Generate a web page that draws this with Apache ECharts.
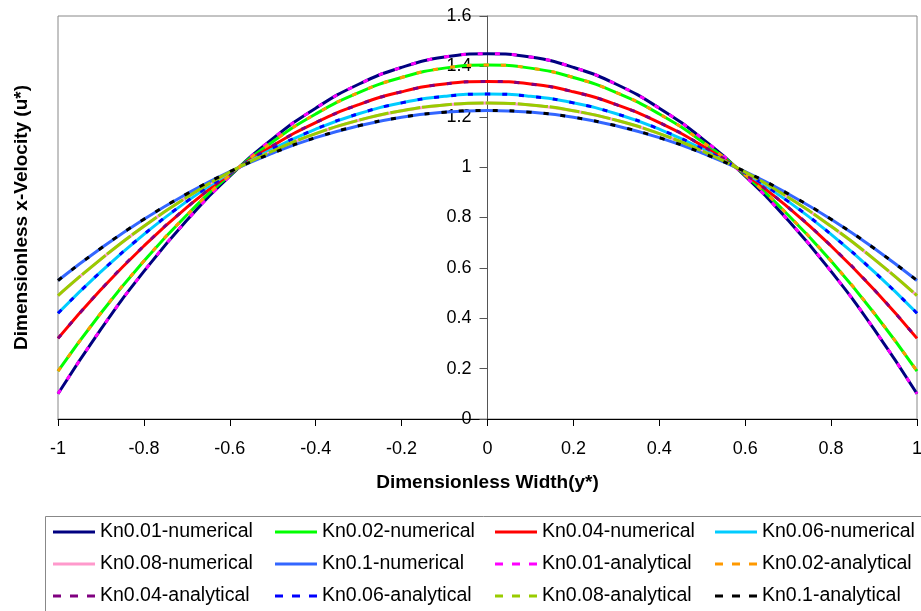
<!DOCTYPE html>
<html><head><meta charset="utf-8">
<script src="https://cdn.jsdelivr.net/npm/echarts@6/dist/echarts.min.js"></script>
<style>html,body{margin:0;padding:0;background:#fff}#c{width:921px;height:611px}</style>
</head><body><div id="c"></div>
<script>
// x positions (dimensionless width y*)
const xVals = [-1,-0.9,-0.8,-0.7,-0.6,-0.5,-0.4,-0.3,-0.2,-0.1,0,0.1,0.2,0.3,0.4,0.5,0.6,0.7,0.8,0.9,1];
// values (u*)
const kn001Num = [0.10,0.357,0.586,0.789,0.964,1.113,1.234,1.329,1.396,1.437,1.45,1.437,1.396,1.329,1.234,1.113,0.964,0.789,0.586,0.357,0.10];
const kn002Num = [0.19,0.421,0.627,0.810,0.968,1.101,1.211,1.296,1.356,1.393,1.405,1.393,1.356,1.296,1.211,1.101,0.968,0.810,0.627,0.421,0.19];
const kn004Num = [0.32,0.514,0.687,0.840,0.973,1.085,1.177,1.248,1.299,1.330,1.34,1.330,1.299,1.248,1.177,1.085,0.973,0.840,0.687,0.514,0.32];
const kn006Num = [0.42,0.585,0.733,0.864,0.977,1.073,1.151,1.212,1.255,1.281,1.29,1.281,1.255,1.212,1.151,1.073,0.977,0.864,0.733,0.585,0.42];
const kn008Num = [0.49,0.635,0.765,0.880,0.980,1.064,1.133,1.186,1.224,1.247,1.255,1.247,1.224,1.186,1.133,1.064,0.980,0.880,0.765,0.635,0.49];
const kn01Num  = [0.55,0.678,0.793,0.894,0.982,1.056,1.117,1.164,1.198,1.218,1.225,1.218,1.198,1.164,1.117,1.056,0.982,0.894,0.793,0.678,0.55];
const kn001Ana = [0.10,0.357,0.586,0.789,0.964,1.113,1.234,1.329,1.396,1.437,1.45,1.437,1.396,1.329,1.234,1.113,0.964,0.789,0.586,0.357,0.10];
const kn002Ana = [0.19,0.421,0.627,0.810,0.968,1.101,1.211,1.296,1.356,1.393,1.405,1.393,1.356,1.296,1.211,1.101,0.968,0.810,0.627,0.421,0.19];
const kn004Ana = [0.32,0.514,0.687,0.840,0.973,1.085,1.177,1.248,1.299,1.330,1.34,1.330,1.299,1.248,1.177,1.085,0.973,0.840,0.687,0.514,0.32];
const kn006Ana = [0.42,0.585,0.733,0.864,0.977,1.073,1.151,1.212,1.255,1.281,1.29,1.281,1.255,1.212,1.151,1.073,0.977,0.864,0.733,0.585,0.42];
const kn008Ana = [0.49,0.635,0.765,0.880,0.980,1.064,1.133,1.186,1.224,1.247,1.255,1.247,1.224,1.186,1.133,1.064,0.980,0.880,0.765,0.635,0.49];
const kn01Ana  = [0.55,0.678,0.793,0.894,0.982,1.056,1.117,1.164,1.198,1.218,1.225,1.218,1.198,1.164,1.117,1.056,0.982,0.894,0.793,0.678,0.55];

const seriesNames = ['Kn0.01-numerical','Kn0.02-numerical','Kn0.04-numerical','Kn0.06-numerical',
  'Kn0.08-numerical','Kn0.1-numerical','Kn0.01-analytical','Kn0.02-analytical',
  'Kn0.04-analytical','Kn0.06-analytical','Kn0.08-analytical','Kn0.1-analytical'];
const seriesData = [kn001Num,kn002Num,kn004Num,kn006Num,kn008Num,kn01Num,kn001Ana,kn002Ana,kn004Ana,kn006Ana,kn008Ana,kn01Ana];
const colors = ['#000080','#00ff00','#ff0000','#00ccff','#ff99cc','#3366ff','#ff00ff','#ff9900','#800080','#0000ff','#99cc00','#000000'];
const dashed = [false,false,false,false,false,false,true,true,true,true,true,true];
const dashPat = [null,null,null,null,null,null,[5,12],[5,12],[5,12],[5,12],[30,2],[5,12]];

const font = '"Liberation Sans", Arial, sans-serif';
const series = seriesNames.map((n,i)=>({
  name:n, type:'line', symbol:'none', smooth:true, animation:false,
  data: xVals.map((x,j)=>[x, seriesData[i][j]]),
  lineStyle:{color:colors[i], width:3, type: dashed[i] ? dashPat[i] : 'solid'},
  itemStyle:{color:colors[i]},
  z: dashed[i] ? 3 : 2
}));

const solidIcon = 'path://M0,0h42v3h-42z';
const dashIcon = 'path://M0,0h8v3h-8z M17,0h8v3h-8z M34,0h8v3h-8z';

function legendCol(idxs, left){
  return {
    data: idxs.map(i=>({name:seriesNames[i], icon: dashed[i] ? dashIcon : solidIcon})),
    top: 521, left: left, orient:'vertical', itemGap:10,
    itemWidth:42, itemHeight:3, padding:0,
    textStyle:{fontFamily:font, fontSize:19.5, color:'#000', lineHeight:22},
    selectedMode:false
  };
}

const chart = echarts.init(document.getElementById('c'), null, {renderer:'canvas'});
chart.setOption({
  animation:false,
  color: colors,
  grid:{left:58, right:4, top:16, bottom:192, show:true, borderColor:'#888888', borderWidth:1,
        containLabel:false, outerBoundsMode:'none'},
  xAxis:{
    type:'value', min:-1, max:1, interval:0.2,
    name:'Dimensionless Width(y*)', nameLocation:'middle', nameGap:54,
    nameTextStyle:{fontFamily:font, fontSize:19, fontWeight:'bold', color:'#000'},
    axisLine:{show:true, onZero:false, lineStyle:{color:'#000', width:1}},
    axisTick:{show:true, inside:false, length:7, lineStyle:{color:'#000'}},
    axisLabel:{fontFamily:font, fontSize:18, color:'#000', margin:21, showMinLabel:true, showMaxLabel:true},
    splitLine:{show:false}
  },
  yAxis:{
    type:'value', min:0, max:1.6, interval:0.2, position:'left', offset:-429.5,
    name:'Dimensionless x-Velocity (u*)', nameLocation:'middle', nameGap:456, nameRotate:90,
    nameTextStyle:{fontFamily:font, fontSize:19, fontWeight:'bold', color:'#000'},
    axisLine:{show:true, onZero:false, lineStyle:{color:'#555', width:1}},
    axisTick:{show:true, inside:false, length:8, lineStyle:{color:'#555'}},
    axisLabel:{fontFamily:font, fontSize:18, color:'#000', margin:16, showMinLabel:true, showMaxLabel:true,
      formatter:v=>String(Math.round(v*10)/10)},
    splitLine:{show:false}
  },
  legend:[
    legendCol([0,4,8], 53),
    legendCol([1,5,9], 275),
    legendCol([2,6,10], 495),
    legendCol([3,7,11], 715)
  ],
  graphic:[{type:'rect', left:43, top:514, shape:{width:900, height:120}, style:{fill:'none', stroke:'#888888', lineWidth:1}, silent:true}],
  series: series
});
</script>
</body></html>
